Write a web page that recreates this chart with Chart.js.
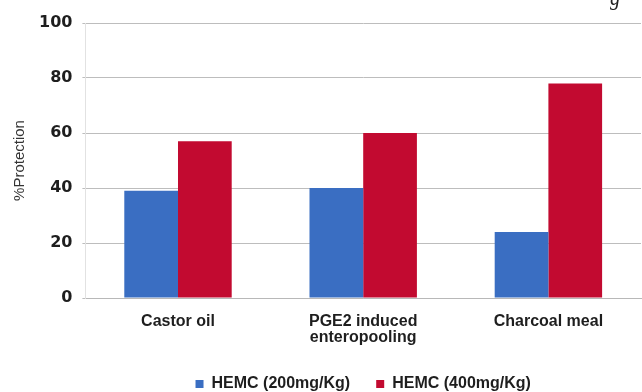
<!DOCTYPE html>
<html>
<head>
<meta charset="utf-8">
<script src="https://cdn.jsdelivr.net/npm/chart.js@4.4.1/dist/chart.umd.min.js"></script>
<style>
  html, body { margin: 0; padding: 0; background: #ffffff; overflow: hidden; }
  #wrap { position: relative; width: 642px; height: 392px; }
  #corner { position: absolute; right: 22px; top: -13px; font: italic 20px "Liberation Serif", serif; color: #222; }
</style>
</head>
<body>
<div id="wrap">
  <canvas id="c" width="642" height="392"></canvas>
  <div id="corner">g</div>
</div>
<script>
// Antidiarrhoeal activity of HEMC at two doses
const categories = [['Castor oil'], ['PGE2 induced', 'enteropooling'], ['Charcoal meal']];
const seriesNames = ['HEMC (200mg/Kg)', 'HEMC (400mg/Kg)'];
const dose200 = [39, 40, 24];
const dose400 = [57, 60, 78];
const yTicks = [0, 20, 40, 60, 80, 100];

const labelFont = { family: '"Liberation Sans", Arial, sans-serif', size: 16, weight: 'bold', lineHeight: 1.0 };

// Pull the legend row closer to the bottom edge
const legendTighten = {
  id: 'legendTighten',
  beforeInit(chart) {
    const fit = chart.legend.fit;
    chart.legend.fit = function () {
      fit.call(chart.legend);
      this.height -= 10;
    };
  }
};

new Chart(document.getElementById('c'), {
  type: 'bar',
  data: {
    labels: categories,
    datasets: [
      { label: seriesNames[0], data: dose200, backgroundColor: '#3a6ec2', borderWidth: 0 },
      { label: seriesNames[1], data: dose400, backgroundColor: '#c20a30', borderWidth: 0 }
    ]
  },
  plugins: [legendTighten],
  options: {
    responsive: false,
    animation: false,
    devicePixelRatio: 1,
    layout: { padding: { top: 23, right: 1, bottom: 0, left: 0 } },
    datasets: { bar: { categoryPercentage: 0.58, barPercentage: 1.0 } },
    plugins: {
      tooltip: { enabled: false },
      legend: {
        position: 'bottom',
        fullSize: false,
        labels: {
          boxWidth: 8, boxHeight: 8, padding: 26,
          color: '#1e1e1e',
          font: labelFont
        }
      }
    },
    scales: {
      x: {
        grid: { display: false, drawTicks: false },
        border: { display: true, color: '#b8b8b8', width: 1 },
        ticks: { color: '#1e1e1e', font: labelFont, padding: 16, maxRotation: 0, autoSkip: false },
        afterFit: (scale) => { scale.height -= 12; }
      },
      y: {
        min: 0, max: 100,
        afterBuildTicks: (axis) => { axis.ticks = yTicks.map(v => ({ value: v })); },
        grid: { color: '#bdbdbd', lineWidth: 1, tickLength: 3 },
        border: { display: true, color: '#e2e2e2', width: 1 },
        ticks: {
          color: '#1e1e1e', padding: 10,
          font: { family: '"DejaVu Sans", sans-serif', size: 16, weight: 'bold' }
        },
        title: {
          display: true, text: '%Protection', color: '#333333',
          font: { family: '"Liberation Sans", Arial, sans-serif', size: 15 },
          padding: { top: 11, bottom: 0 }
        }
      }
    }
  }
});
</script>
</body>
</html>
